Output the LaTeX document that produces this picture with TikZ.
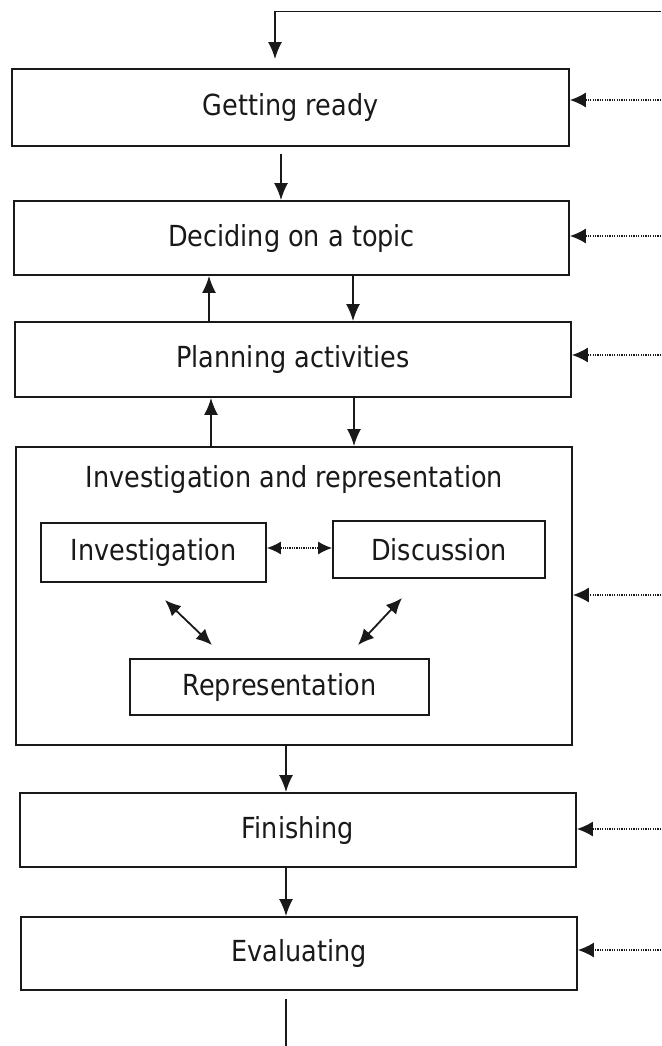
\documentclass[tikz,border=0pt]{standalone}
\usepackage{fontspec}
\setmainfont{DejaVu Sans}[FakeStretch=0.88]
\usetikzlibrary{arrows.meta}
\begin{document}
\begin{tikzpicture}[x=1pt,y=-1pt,
  box/.style={draw=black!90, line width=1.8pt, inner sep=0pt, font=\fontsize{29}{33}\selectfont, text=black!90},
  lbl/.style={font=\fontsize{29}{33}\selectfont, inner sep=0pt, text=black!90},
  arr/.style={draw=black!90, line width=1.8pt, -{Latex[length=17pt,width=14pt]}},
  darr/.style={draw=black!90, line width=1.8pt, {Latex[length=16pt,width=14pt]}-{Latex[length=16pt,width=14pt]}},
  harr/.style={draw=black!90, line width=1.3pt, densely dotted, {Latex[length=14pt,width=13pt]}-{Latex[length=14pt,width=13pt]}},
  dotarr/.style={draw=black!90, line width=1.5pt, dash pattern=on 1.2pt off 1.2pt, -{Latex[length=16pt,width=15pt]}}]
\useasboundingbox (0,0) rectangle (661,1046);
% main boxes
\node[box, minimum width=557pt, minimum height=77pt] (b1) at (290.5,107.5) {Getting ready};
\node[box, minimum width=555pt, minimum height=74pt] (b2) at (291.5,238) {Deciding on a topic};
\node[box, minimum width=556pt, minimum height=75pt] (b3) at (293,359.5) {Planning activities};
\node[box, minimum width=556pt, minimum height=298pt] (b4) at (294,596) {};
\node[lbl] (t4) at (294.5,479) {Investigation and representation};
\node[box, minimum width=225pt, minimum height=59pt] (inv) at (153.5,552.5) {Investigation};
\node[box, minimum width=212pt, minimum height=57pt] (dis) at (439,549.5) {Discussion};
\node[box, minimum width=299pt, minimum height=56pt] (rep) at (279.5,687) {Representation};
\node[box, minimum width=556pt, minimum height=74pt] (fin) at (298,830) {Finishing};
\node[box, minimum width=556pt, minimum height=73pt] (ev) at (299,953.5) {Evaluating};
% top feedback line
\coordinate (tr) at (661,11.5);
\coordinate (tx) at (275,11.5);
\draw[arr, shorten >=9pt] (tr) -- (tx) -- (b1.north -| tx);
% vertical arrows
\coordinate (a1) at (281,0);
\draw[arr, shorten <=7pt] (b1.south -| a1) -- (b2.north -| a1);
\coordinate (up1) at (209,0);
\coordinate (dn1) at (353,0);
\coordinate (up2) at (211,0);
\coordinate (dn2) at (354,0);
\draw[arr] (b3.north -| up1) -- (b2.south -| up1);
\draw[arr] (b2.south -| dn1) -- (b3.north -| dn1);
\draw[arr] (b4.north -| up2) -- (b3.south -| up2);
\draw[arr] (b3.south -| dn2) -- (b4.north -| dn2);
\coordinate (a2) at (286,0);
\draw[arr] (b4.south -| a2) -- (fin.north -| a2);
\draw[arr] (fin.south -| a2) -- (ev.north -| a2);
\coordinate (bot) at (286,1046);
\draw[draw=black!90, line width=1.8pt, shorten <=8pt] (ev.south -| bot) -- (bot);
% inner arrows
\coordinate (hy) at (0,548);
\draw[harr] (inv.east |- hy) -- (dis.west |- hy);
\coordinate (l1) at (165,600);
\coordinate (l2) at (212,645);
\coordinate (r1) at (402,598);
\coordinate (r2) at (358,645);
\draw[darr] (l1) -- (l2);
\draw[darr] (r1) -- (r2);
% dotted feedback arrows
\coordinate (d1) at (661,100);
\coordinate (d2) at (661,236);
\coordinate (d3) at (661,355);
\coordinate (d4) at (661,595);
\coordinate (d5) at (661,829);
\coordinate (d6) at (661,950);
\draw[dotarr] (d1) -- (b1.east |- d1);
\draw[dotarr] (d2) -- (b2.east |- d2);
\draw[dotarr] (d3) -- (b3.east |- d3);
\draw[dotarr] (d4) -- (b4.east |- d4);
\draw[dotarr] (d5) -- (fin.east |- d5);
\draw[dotarr] (d6) -- (ev.east |- d6);
\end{tikzpicture}
\end{document}
